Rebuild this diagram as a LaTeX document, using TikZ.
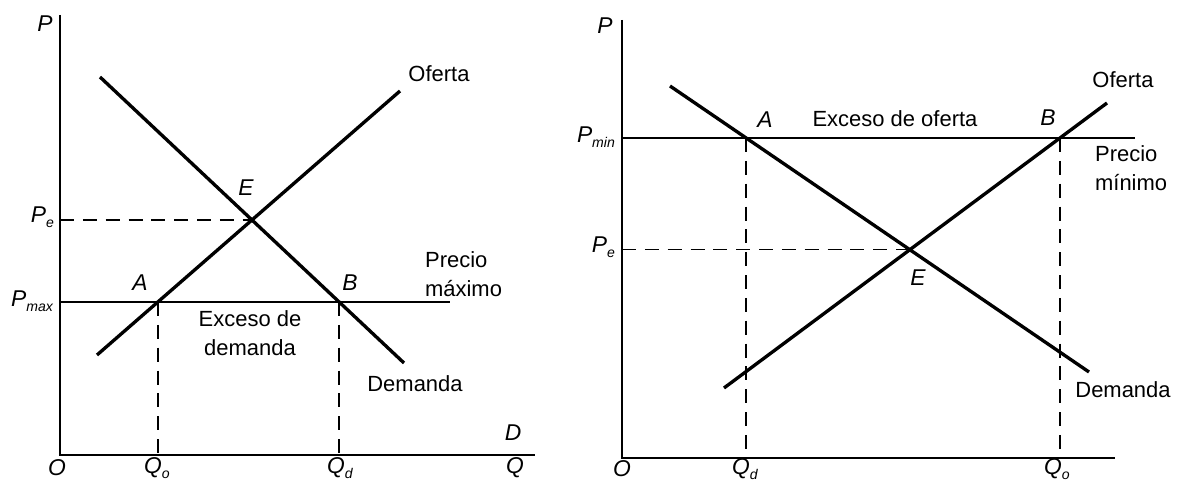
\documentclass[tikz,border=0pt]{standalone}
\usepackage{fontspec}
\setmainfont{Liberation Sans}
\usetikzlibrary{positioning, calc}
\tikzset{
  axisline/.style={line width=1.1pt, black},
  curve/.style={line width=1.9pt, black},
  priceline/.style={line width=0.7pt, black},
  guide/.style={line width=0.9pt, dash pattern=on 8pt off 5pt},
  lbl/.style={font=\fontsize{12.5}{16.5}\selectfont, inner sep=1pt, align=center},
  pt/.style={font=\fontsize{13}{15}\selectfont\itshape, inner sep=1pt},
}
\newcommand{\sub}[2]{#1\raisebox{-0.45ex}{\fontsize{8}{9}\selectfont #2}}

\begin{document}
\begin{tikzpicture}[x=0.02cm, y=-0.02cm]
  \useasboundingbox (0,0) rectangle (1181,482);

  % ---- left: precio maximo
  \coordinate (O1) at (60,455);
  \coordinate (Ptop1) at (60,15);
  \coordinate (Qend1) at (535,455);
  \coordinate (dA1) at (100,77);
  \coordinate (dB1) at (404,363);
  \coordinate (sA1) at (97,355);
  \coordinate (sB1) at (400,91);
  \coordinate (pmaxA) at (60,302);
  \coordinate (pmaxB) at (450,302);
  \coordinate (E1) at (intersection of dA1--dB1 and sA1--sB1);
  \coordinate (A1) at (intersection of sA1--sB1 and pmaxA--pmaxB);
  \coordinate (B1) at (intersection of dA1--dB1 and pmaxA--pmaxB);

  \draw[axisline] (Ptop1) -- (O1) -- (Qend1);
  \draw[priceline] (pmaxA) -- (pmaxB);
  \draw[guide] (E1 -| O1) -- (E1);
  \draw[guide] (A1) -- (A1 |- O1);
  \draw[guide] (B1) -- (B1 |- O1);
  \draw[curve] (dA1) -- (dB1);
  \draw[curve] (sA1) -- (sB1);

  \node[pt] (p1) at (45,24) {P};
  \node[pt, anchor=east] (pe1) at (56,217) {\sub{P}{e}};
  \node[pt, anchor=east] (pmax) at (55,301) {\sub{P}{max}};
  \node[pt] (o1) at (57,468) {O};
  \node[pt] (qo1) at (157,468) {\sub{Q}{o}};
  \node[pt] (qd1) at (340,468) {\sub{Q}{d}};
  \node[pt] (q1) at (515,468) {Q};
  \node[pt] (d1) at (513,433) {D};
  \node[pt] (e1) at (246,188) {E};
  \node[pt] (a1) at (140,283) {A};
  \node[pt] (b1) at (350,283) {B};
  \node[lbl] (of1) at (439,74) {Oferta};
  \node[lbl, anchor=west, align=left] (pmaxtxt) at (423,274) {Precio\\máximo};
  \node[lbl] (exd) at (250,333) {Exceso de\\demanda};
  \node[lbl] (dem1) at (415,384) {Demanda};

  % ---- right: precio minimo
  \coordinate (O2) at (622,458);
  \coordinate (Ptop2) at (622,20);
  \coordinate (Qend2) at (1115,458);
  \coordinate (dA2) at (670,86);
  \coordinate (dB2) at (1089,372);
  \coordinate (sA2) at (724,388);
  \coordinate (sB2) at (1107,103);
  \coordinate (pminA) at (622,138);
  \coordinate (pminB) at (1135,138);
  \coordinate (E2) at (intersection of dA2--dB2 and sA2--sB2);
  \coordinate (A2) at (intersection of dA2--dB2 and pminA--pminB);
  \coordinate (B2) at (intersection of sA2--sB2 and pminA--pminB);

  \draw[axisline] (Ptop2) -- (O2) -- (Qend2);
  \draw[priceline] (pminA) -- (pminB);
  \draw[guide] (E2 -| O2) -- (E2);
  \draw[guide] (A2) -- (A2 |- O2);
  \draw[guide] (B2) -- (B2 |- O2);
  \draw[curve] (dA2) -- (dB2);
  \draw[curve] (sA2) -- (sB2);

  \node[pt] (p2) at (605,26) {P};
  \node[pt, anchor=east] (pmin) at (617,137) {\sub{P}{min}};
  \node[pt, anchor=east] (pe2) at (617,247) {\sub{P}{e}};
  \node[pt] (o2) at (622,469) {O};
  \node[pt] (qd2) at (745,469) {\sub{Q}{d}};
  \node[pt] (qo2) at (1057,469) {\sub{Q}{o}};
  \node[pt] (a2) at (765,120) {A};
  \node[pt] (b2) at (1048,118) {B};
  \node[pt] (e2) at (918,278) {E};
  \node[lbl] (exo) at (895,119) {Exceso de oferta};
  \node[lbl] (of2) at (1123,80) {Oferta};
  \node[lbl, anchor=west, align=left] (pmintxt) at (1093,168) {Precio\\mínimo};
  \node[lbl] (dem2) at (1123,390) {Demanda};
\end{tikzpicture}
\end{document}
